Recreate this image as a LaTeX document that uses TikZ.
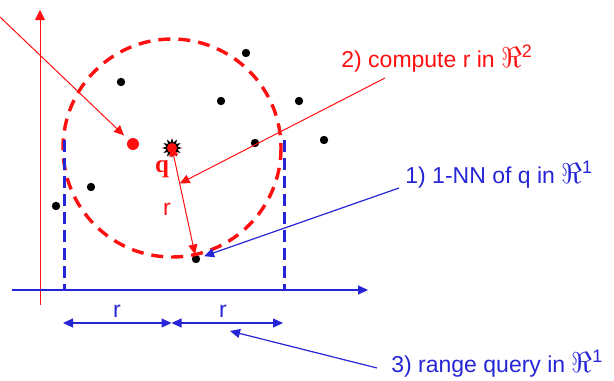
\documentclass[tikz,border=0pt]{standalone}
\usepackage{amsmath,amssymb}
\usepackage{fontspec}
\setmainfont{Liberation Sans}
\newfontfamily\qfont{Liberation Serif}
\usepackage{xcolor}
\usetikzlibrary{calc,arrows.meta,positioning,shapes.geometric}
\definecolor{redc}{HTML}{FF1010}
\definecolor{bluec}{HTML}{2626D6}
\newcommand{\rspace}[1]{\scalebox{1.2}{$\Re$}\raisebox{0.75ex}{\fontsize{9}{10}\selectfont #1}}
\tikzset{
  dot/.style={circle,fill=black,inner sep=0pt,minimum size=4.2pt},
  redar/.style={-{Triangle[length=5pt,width=4.5pt]},redc,line width=0.5pt},
  bluear/.style={-{Triangle[length=5pt,width=4.5pt]},bluec,line width=0.6pt},
  lbl/.style={font=\fontsize{11.5}{14}\selectfont,inner sep=0pt},
  dashv/.style={bluec,line width=1.5pt,dash pattern=on 6pt off 3pt}
}
\begin{document}
\begin{tikzpicture}[x=0.5pt,y=-0.5pt]
\useasboundingbox (0,0) rectangle (614,380);
% axes
\coordinate (yb) at (40,305);
\coordinate (yt) at (40,10);
\coordinate (xa) at (12,290);
\coordinate (xb) at (368,290);
\draw[-{Triangle[length=5pt,width=5pt]},redc,line width=0.5pt] (yb) -- (yt);
\draw[-{Triangle[length=5pt,width=4.5pt]},bluec,line width=0.7pt] (xa) -- (xb);
% data points
\foreach \px/\py [count=\i] in {246/53,121/82,221/101,299/101,324/140,255/143,91/187,56/206}
  \node[dot] (p\i) at (\px,\py) {};
\node[dot] (nn) at (196,259) {};
\node[circle,fill=redc,inner sep=0pt,minimum size=6pt] (rp) at (133,144) {};
% query point
\node[star,star points=12,star point ratio=1.8,fill=black,inner sep=0pt,minimum size=10pt] (q) at (172,148) {};
\node[circle,fill=redc,inner sep=0pt,minimum size=5pt] at (q) {};
\node[lbl,text=redc,anchor=base,font=\fontsize{12.5}{14}\selectfont] (qlab) at (162,172) {\qfont\bfseries q};
% search circle
\draw[redc,line width=1.7pt,dash pattern=on 6pt off 4pt] (q.center) circle[radius=109];
% range bounds
\coordinate (lt) at (64,140);
\coordinate (lb) at (64,290);
\coordinate (rt) at (284,140);
\coordinate (rb) at (284,290);
\draw[dashv] (lt) -- (lb);
\draw[dashv] (rt) -- (rb);
\coordinate (al) at (63,323);
\coordinate (am) at (171.5,323);
\coordinate (ar) at (283,323);
\draw[bluear,{Triangle[length=5pt,width=4.5pt]}-{Triangle[length=5pt,width=4.5pt]}] (al) -- (am);
\draw[bluear,{Triangle[length=5pt,width=4.5pt]}-{Triangle[length=5pt,width=4.5pt]}] (am) -- (ar);
\node[lbl,text=bluec,anchor=base] (r1) at (117,317) {r};
\node[lbl,text=bluec,anchor=base] (r2) at (223,317) {r};
% radius
\draw[redar,{Triangle[length=5pt,width=4.5pt]}-{Triangle[length=5pt,width=4.5pt]},shorten <=-1pt] (q.center) -- (nn);
\node[lbl,text=redc,anchor=base] (rq) at (167,215) {r};
% pointer to the red point
\coordinate (tl) at (0,17);
\draw[redar,shorten >=3pt] (tl) -- (rp);
% step labels
\node[lbl,text=redc,anchor=base west] (s2) at (341,67) {2) compute r in \rspace{2}};
\node[lbl,text=bluec,anchor=base west] (s1) at (405,183) {1) 1-NN of q in \rspace{1}};
\node[lbl,text=bluec,anchor=base west] (s3) at (391,372) {3) range query in \rspace{1}};
\coordinate (c2) at (385,78);
\coordinate (c1) at (399,188);
\coordinate (c3) at (377,368);
\draw[redar] (c2) -- ($(q)!0.32!(nn)$);
\draw[bluear,shorten >=2pt] (c1) -- (nn);
\draw[bluear] (c3) -- (230,331);
\end{tikzpicture}
\end{document}
